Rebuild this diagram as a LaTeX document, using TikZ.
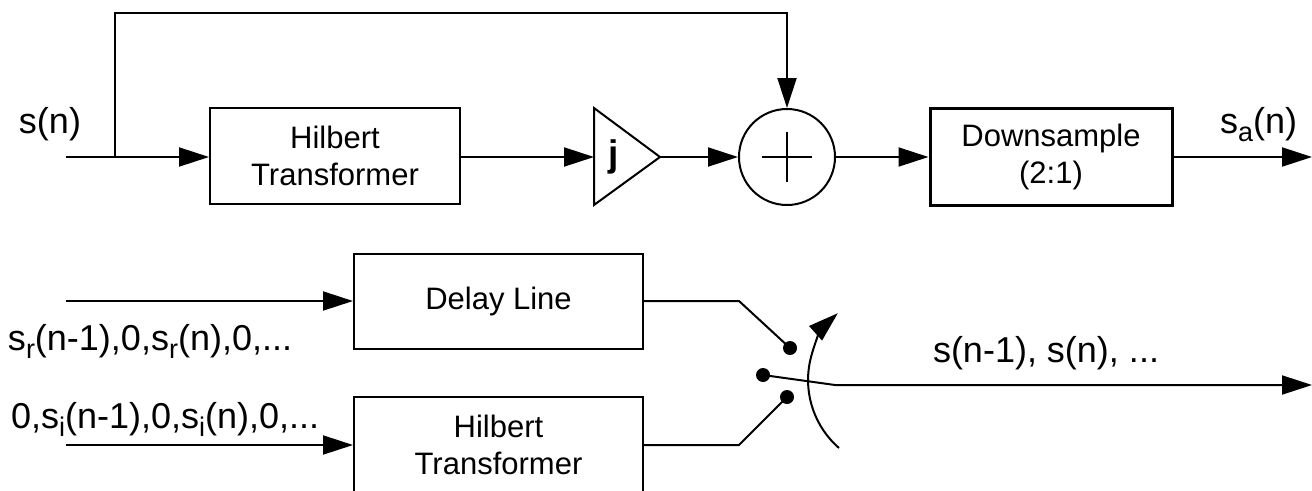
\documentclass[tikz,border=0pt]{standalone}
\usepackage{fontspec}
\setmainfont{Liberation Sans}
\usetikzlibrary{arrows.meta}
\newcommand\mysub[1]{\raisebox{-8pt}{\fontsize{27}{27}\selectfont #1}}
\newcommand\myboxfont{\fontsize{31}{37}\selectfont}
\newcommand\mylblfont{\fontsize{36}{40}\selectfont}
\begin{document}
\begin{tikzpicture}[x=1pt,y=-1pt,line width=2pt,
  box/.style={draw,line width=2pt,minimum width=250pt,minimum height=96pt,align=center,font=\myboxfont,inner sep=0pt},
  lbl/.style={font=\mylblfont,inner sep=0pt,anchor=base west},
  arr/.style={-{Triangle[length=30pt,width=19pt]}},
  dot/.style={circle,fill,minimum size=14pt,inner sep=0pt}]
\useasboundingbox (0,0) rectangle (1312,490);
\clip (0,0) rectangle (1312,490);
% top row
\node[box] (hb1) at (335,156) {Hilbert\\Transformer};
\coordinate (gin) at (594,157);
\coordinate (gout) at (660,157);
\draw[line join=miter] (594,108) -- (gout) -- (594,205) -- cycle;
\node[font=\bfseries\fontsize{37}{37}\selectfont,inner sep=0pt] (j) at (614,157) {j};
\node[circle,draw,minimum size=96pt,inner sep=0pt] (sum) at (787,157) {};
\draw ([xshift=-25pt]sum.center) -- ([xshift=25pt]sum.center);
\draw ([yshift=-25pt]sum.center) -- ([yshift=25pt]sum.center);
\node[box,line width=3pt,minimum width=242pt,minimum height=97pt] (ds) at (1051,157) {Downsample\\(2:1)};
\coordinate (in) at (66,157);
\coordinate (junc) at (115,157);
\coordinate (tl) at (115,13);
\coordinate (tr) at (787,13);
\coordinate (out1) at (1312,157);
\draw (in) -- (junc);
\draw[arr] (junc) -- (junc -| hb1.west);
\draw[arr] (junc) -- (tl) -- (tr) -- (sum.north);
\draw[arr] (hb1.east |- gin) -- (gin);
\draw[arr] (gout) -- (sum.west);
\draw[arr] (sum.east) -- (ds.west);
\draw[arr] (ds.east) -- (out1);
\node[lbl] (sn) at (18,133) {s(n)};
\node[lbl] (san) at (1219,133) {s\mysub{a}(n)};
% bottom row
\node[box,minimum width=289pt,minimum height=95pt] (dl) at (498.5,301) {Delay Line};
\node[box,minimum width=289pt,minimum height=95pt] (hb2) at (498.5,444.5) {Hilbert\\Transformer};
\coordinate (in2) at (66,301);
\coordinate (in3) at (66,445);
\draw[arr] (in2) -- (in2 -| dl.west);
\draw[arr] (in3) -- (in3 -| hb2.west);
\coordinate (k1) at (739,301);
\coordinate (k2) at (739,445);
\node[dot] (d1) at (790,348) {};
\node[dot] (d2) at (763,375) {};
\node[dot] (d3) at (787,397) {};
\draw (k1 -| dl.east) -- (k1) -- (d1.center);
\draw (k2 -| hb2.east) -- (k2) -- (d3.center);
\coordinate (k3) at (835,385);
\coordinate (out2) at (1312,385);
\draw[arr] (d2.center) -- (k3) -- (out2);
\coordinate (a0) at (839,448);
\draw[arr] (a0) arc[start angle=229,end angle=132,radius=90pt];
\node[lbl] (sr) at (7,350) {s\mysub{r}(n-1),0,s\mysub{r}(n),0,...};
\node[lbl] (si) at (10,428) {0,s\mysub{i}(n-1),0,s\mysub{i}(n),0,...};
\node[lbl] (so) at (932,362) {s(n-1), s(n), ...};
\end{tikzpicture}
\end{document}
